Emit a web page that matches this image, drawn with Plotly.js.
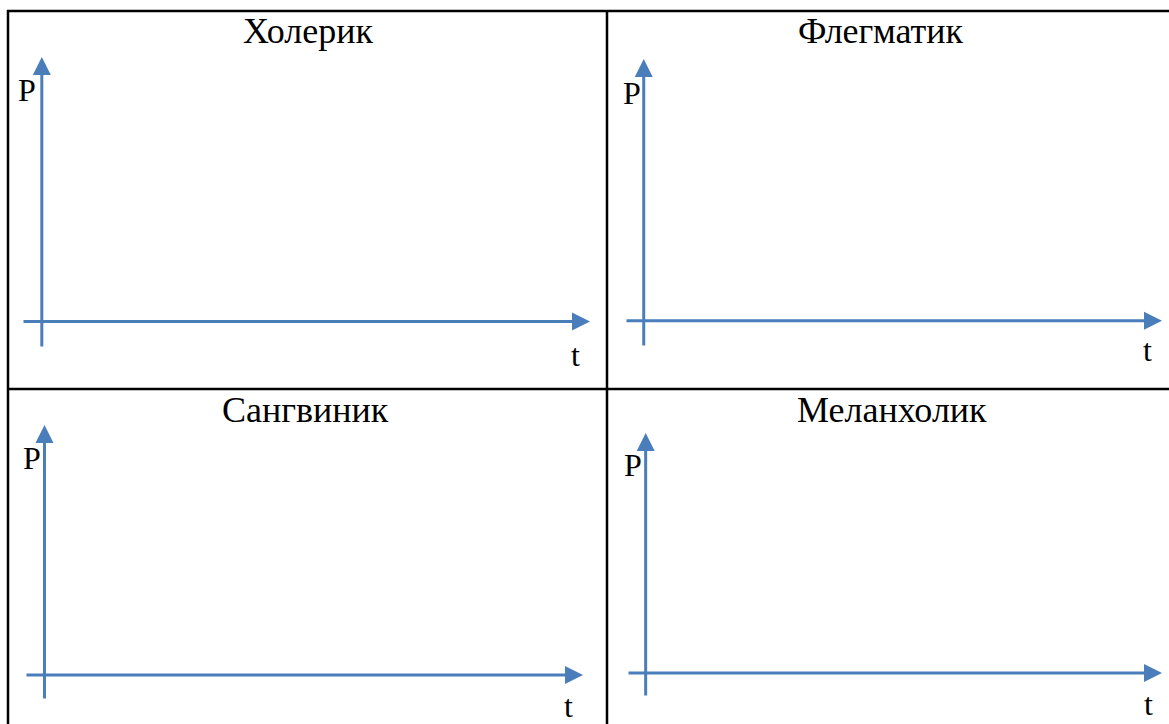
<!DOCTYPE html>
<html>
<head>
<meta charset="utf-8">
<script src="https://cdn.plot.ly/plotly-3.0.1.min.js"></script>
<style>
#chart text { font-family: 'Liberation Serif', serif !important; }
</style>
</head>
<body style="margin:0;background:#fff">
<div id="chart" style="width:1169px;height:724px"></div>
<script>
// Data
var panelTitles = ["Холерик", "Флегматик", "Сангвиник", "Меланхолик"];
var xAxisLabel = "t";
var yAxisLabel = "P";
var tAxisExtent = [-0.75, 20.75];   // time axis, from tail to arrow tip
var pAxisExtent = [-1, 10];         // P axis, from tail to arrow tip

// Layout (pixel boxes of each panel's plotting frame: left, right, top, bottom)
var W = 1169, H = 724;
var boxes = [
  {l: 22,  r: 590,  t: 57,  b: 348, title: [308, 31], pl: [27, 90],  tl: [575, 355]},
  {l: 625, r: 1162, t: 59,  b: 347, title: [880, 31], pl: [632, 93], tl: [1147, 350]},
  {l: 25,  r: 583,  t: 425, b: 700, title: [305, 410], pl: [32, 458], tl: [568, 706]},
  {l: 627, r: 1162, t: 433, b: 697, title: [892, 410], pl: [633, 465], tl: [1148, 704]}
];
function px(x){ return x / W; }
function py(y){ return 1 - y / H; }

var blue = '#4A7EBB';
var fontFam = 'Liberation Serif';

var layout = {
  width: W, height: H,
  margin: {l: 0, r: 0, t: 0, b: 0},
  paper_bgcolor: '#fff', plot_bgcolor: 'rgba(0,0,0,0)',
  showlegend: false,
  font: {family: fontFam},
  annotations: [],
  shapes: [
    {type: 'line', xref: 'paper', yref: 'paper', x0: px(7), x1: 1, y0: py(11), y1: py(11), line: {color: '#000', width: 2.5}},
    {type: 'line', xref: 'paper', yref: 'paper', x0: px(8), x1: px(8), y0: py(10), y1: 0, line: {color: '#000', width: 2.5}},
    {type: 'line', xref: 'paper', yref: 'paper', x0: px(607), x1: px(607), y0: py(10), y1: 0, line: {color: '#000', width: 2.5}},
    {type: 'line', xref: 'paper', yref: 'paper', x0: px(7), x1: 1, y0: py(389), y1: py(389), line: {color: '#000', width: 2.5}}
  ]
};

var traces = [];
boxes.forEach(function(b, i){
  var sfx = i === 0 ? '' : String(i + 1);
  var xr = 'x' + sfx, yr = 'y' + sfx;
  layout['xaxis' + sfx] = {domain: [px(b.l), px(b.r)], range: tAxisExtent.slice(), visible: false, fixedrange: true, anchor: yr};
  layout['yaxis' + sfx] = {domain: [py(b.b), py(b.t)], range: pAxisExtent.slice(), visible: false, fixedrange: true, anchor: xr};
  traces.push({type: 'scatter', mode: 'markers', x: [tAxisExtent[0]], y: [pAxisExtent[0]], xaxis: xr, yaxis: yr,
    marker: {opacity: 0}, hoverinfo: 'skip'});
  layout.annotations.push({xref: xr, yref: yr, axref: xr, ayref: yr,
    x: tAxisExtent[1], y: 0, ax: tAxisExtent[0], ay: 0, text: '', showarrow: true,
    arrowhead: 2, arrowsize: 1.2, arrowwidth: 3, arrowcolor: blue, standoff: 0, startstandoff: 0});
  layout.annotations.push({xref: xr, yref: yr, axref: xr, ayref: yr,
    x: 0, y: pAxisExtent[1], ax: 0, ay: pAxisExtent[0], text: '', showarrow: true,
    arrowhead: 2, arrowsize: 1.2, arrowwidth: 3, arrowcolor: blue, standoff: 0, startstandoff: 0});
  layout.annotations.push({xref: 'paper', yref: 'paper', x: px(b.title[0]), y: py(b.title[1]),
    xanchor: 'center', yanchor: 'middle', text: panelTitles[i], showarrow: false,
    font: {family: fontFam, size: 36, color: '#000'}});
  layout.annotations.push({xref: 'paper', yref: 'paper', x: px(b.pl[0]), y: py(b.pl[1]),
    xanchor: 'center', yanchor: 'middle', text: yAxisLabel, showarrow: false,
    font: {family: fontFam, size: 32, color: '#000'}});
  layout.annotations.push({xref: 'paper', yref: 'paper', x: px(b.tl[0]), y: py(b.tl[1]),
    xanchor: 'center', yanchor: 'middle', text: xAxisLabel, showarrow: false,
    font: {family: fontFam, size: 32, color: '#000'}});
});

Plotly.newPlot('chart', traces, layout, {displayModeBar: false});
</script>
</body>
</html>
